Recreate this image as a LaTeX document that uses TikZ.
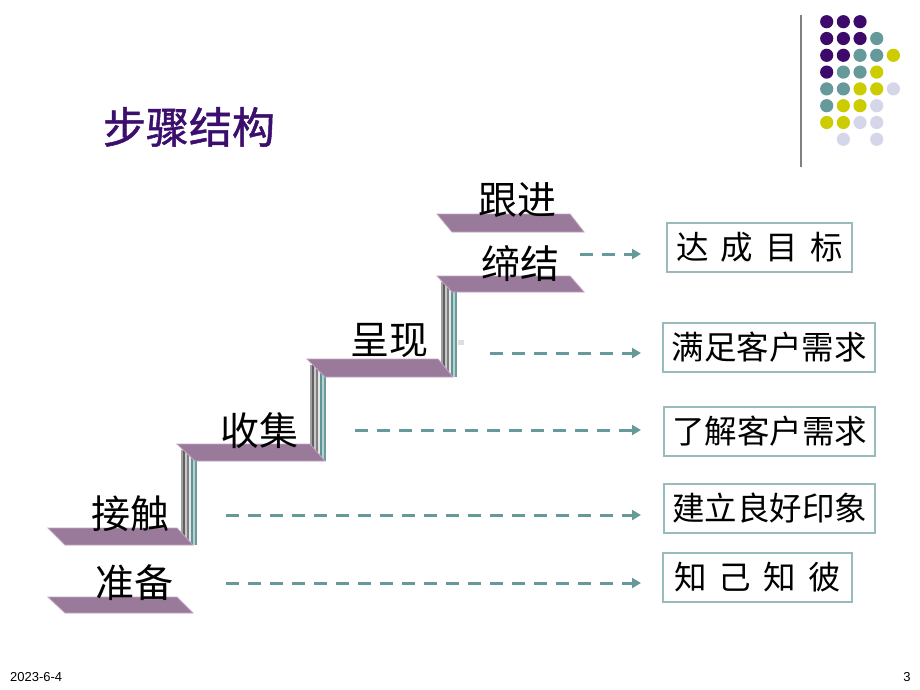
\documentclass[tikz,border=0pt]{standalone}
\usepackage{fontspec}
\setmainfont{Liberation Sans}
\newfontfamily\cjk{Noto Sans CJK SC}
\newfontfamily\cjkspaced[WordSpace=1.3]{Noto Sans CJK SC}
\newfontfamily\cjktitle[FakeBold=1.2]{Noto Sans CJK SC}
\usetikzlibrary{arrows.meta}
\definecolor{dkpurple}{HTML}{3D0A6B}
\definecolor{tealc}{HTML}{669999}
\definecolor{yelc}{HTML}{CCCC00}
\definecolor{lavc}{HTML}{D6D6EB}
\definecolor{stepc}{HTML}{9A7A9A}
\definecolor{stepedge}{HTML}{C2A2C2}
\definecolor{boxedge}{HTML}{99BBBB}
\definecolor{titlec}{HTML}{3C0F6E}
\tikzset{
  stepshape/.style={fill=stepc, draw=stepedge, line width=0.8pt},
  steplabel/.style={font=\cjk\fontsize{39}{42}\selectfont, text=black, inner sep=0pt},
  boxnode/.style={draw=boxedge, line width=1.3pt, fill=white, minimum height=49pt, inner sep=0pt, font=\cjk\fontsize{32.5}{35}\selectfont},
  flow/.style={draw=tealc, line width=3pt, dash pattern=on 13pt off 9pt, -{Triangle[length=9pt,width=10pt]}},
  dotP/.style={fill=dkpurple},
  dotT/.style={fill=tealc},
  dotY/.style={fill=yelc},
  dotL/.style={fill=lavc},
}
\newcommand{\myriser}[3]{% x-left, y-top, y-bottom
  \foreach \i/\c in {0/A0A0A0,2/606060,4/C8C8C8,6/808080,8/E6E6E6,10/5F9595,12/B8D0D0,14/6A9C9C}{
    \definecolor{tmpc}{HTML}{\c}
    \fill[tmpc] (#1+\i,#2) rectangle (#1+\i+2,#3);
  }
}
\begin{document}
\begin{tikzpicture}[x=1pt,y=-1pt]
\useasboundingbox (0,0) rectangle (920,690);
\fill[white] (0,0) rectangle (920,690);

% title
\node[font=\cjktitle\fontsize{43}{46}\selectfont, text=titlec, inner sep=0pt] (title) at (189,127) {步骤结构};

% decoration
\draw[draw=gray, line width=1.5pt] (801,15) -- (801,167);
\foreach \row/\cols in {1/{1/P,2/P,3/P},2/{1/P,2/P,3/P,4/T},3/{1/P,2/P,3/T,4/T,5/Y},4/{1/P,2/T,3/T,4/Y},5/{1/T,2/T,3/Y,4/Y,5/L},6/{1/T,2/Y,3/Y,4/L},7/{1/Y,2/Y,3/L,4/L},8/{2/L,4/L}}{
  \foreach \col/\k in \cols {
    \fill[dot\k] ({826.7+(\col-1)*16.67},{21.7+(\row-1)*16.8}) circle (6.6);
  }
}

% risers
\myriser{181}{450}{545}
\myriser{310}{365}{461}
\myriser{441}{282}{377}
\fill[gray!25] (458,340) rectangle (464,345);

% steps
\draw[stepshape] (48,597) -- (177,597) -- (193,613) -- (65,613) -- cycle;
\draw[stepshape] (48,528) -- (177,528) -- (193,545) -- (65,545) -- cycle;
\draw[stepshape] (177,444) -- (310,444) -- (325,461) -- (195,461) -- cycle;
\draw[stepshape] (307,359) -- (438,359) -- (453,377) -- (325,377) -- cycle;
\draw[stepshape] (437,276) -- (570,276) -- (584,292) -- (452,292) -- cycle;
\draw[stepshape] (437,214) -- (570,214) -- (584,232) -- (452,232) -- cycle;

% step labels
\node[steplabel] (genjin) at (517,200) {跟进};
\node[steplabel] (dijie) at (520,264) {缔结};
\node[steplabel] (chengxian) at (389,341) {呈现};
\node[steplabel] (shouji) at (259,431) {收集};
\node[steplabel] (jiechu) at (130,514) {接触};
\node[steplabel] (zhunbei) at (134,583) {准备};

% boxes
\node[boxnode, minimum width=185pt] (b1) at (759.5,247.5) {\cjkspaced 达 成 目 标};
\node[boxnode, minimum width=212pt] (b2) at (769,347.5) {满足客户需求};
\node[boxnode, minimum width=211pt] (b3) at (769.5,431.5) {了解客户需求};
\node[boxnode, minimum width=211pt] (b4) at (769.5,508.5) {建立良好印象};
\node[boxnode, minimum width=189pt] (b5) at (757.5,577.5) {\cjkspaced 知 己 知 彼};

% arrow endpoints
\coordinate (s1) at (580,254); \coordinate (e1) at (641,254);
\coordinate (s2) at (490,353); \coordinate (e2) at (641,353);
\coordinate (s3) at (355,430); \coordinate (e3) at (641,430);
\coordinate (s4) at (226,515); \coordinate (e4) at (641,515);
\coordinate (s5) at (226,583); \coordinate (e5) at (641,583);
\draw[flow] (s1) -- (e1);
\draw[flow] (s2) -- (e2);
\draw[flow] (s3) -- (e3);
\draw[flow] (s4) -- (e4);
\draw[flow] (s5) -- (e5);

% footer
\node[font=\fontsize{13}{15}\selectfont, anchor=west, inner sep=0pt] (date) at (10,677) {2023-6-4};
\node[font=\fontsize{13}{15}\selectfont, inner sep=0pt] (page) at (907,677) {3};
\end{tikzpicture}
\end{document}
